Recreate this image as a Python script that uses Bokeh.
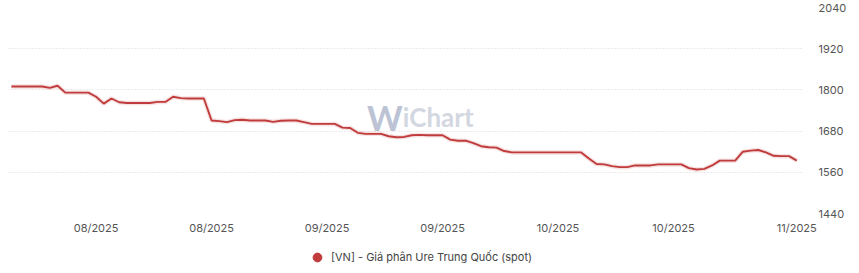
import pandas as pd
from bokeh.plotting import figure
from bokeh.layouts import column
from bokeh.models import (ColumnDataSource, Range1d, FixedTicker, DatetimeTickFormatter,
                          Legend, LegendItem, Label)
from bokeh.embed import file_html
from bokeh.resources import INLINE

# ---- data ----
start_date = "2025-07-22"
prices = [1810, 1810, 1810, 1810, 1810, 1806, 1812, 1792, 1792, 1792, 1792, 1780, 1760, 1775, 1764,
          1762, 1762, 1762, 1762, 1765, 1765, 1780, 1776, 1775, 1775, 1775,
          1711, 1709, 1706, 1712, 1713, 1711, 1711, 1711, 1707, 1710, 1711, 1711, 1706,
          1701, 1701, 1701, 1701,
          1690, 1689, 1675, 1672, 1672, 1672, 1665, 1662, 1663, 1668, 1669, 1668, 1668, 1668,
          1655, 1652, 1652, 1645, 1636, 1633, 1632, 1622,
          1618, 1618, 1618, 1618, 1618, 1618, 1618, 1618, 1618, 1618,
          1600, 1584, 1583, 1578, 1575, 1575, 1580, 1580, 1580, 1583, 1583, 1583, 1583,
          1572, 1568, 1570, 1580, 1594, 1594, 1594, 1620, 1623, 1625, 1618, 1608, 1607, 1607, 1594]
dates = pd.date_range(start_date, periods=len(prices), freq="D")
tick_dates = ["2025-08-02", "2025-08-17", "2025-09-01", "2025-09-16", "2025-10-01", "2025-10-16", "2025-11-01"]
y_ticks = [1440, 1560, 1680, 1800, 1920, 2040]
series_name = "[VN] - Giá phân Ure Trung Quốc (spot)"

LINE = "#c03c3c"
FONT = "Inter"


def ms(d):
    return pd.Timestamp(d).value / 1e6


src = ColumnDataSource(dict(x=dates, y=prices))

p = figure(width=859, height=240, output_backend="svg", toolbar_location=None,
           x_axis_type="datetime",
           x_range=Range1d(ms("2025-07-21 15:00"), ms("2025-11-01 21:00")),
           y_range=Range1d(1440, 2040), y_axis_location="right",
           min_border_left=8, min_border_right=56, min_border_top=7, min_border_bottom=27)
p.outline_line_color = None
p.background_fill_color = "white"
p.border_fill_color = "white"

# axes
xa = p.xaxis[0]
xa.ticker = FixedTicker(ticks=[ms(d) for d in tick_dates])
xa.formatter = DatetimeTickFormatter(days="%m/%Y", months="%m/%Y", years="%m/%Y",
                                     hours="%m/%Y", minutes="%m/%Y", seconds="%m/%Y")
xa.axis_line_color = None
xa.major_tick_line_color = None
xa.minor_tick_line_color = None
xa.major_tick_out = 0
xa.major_tick_in = 0
xa.major_label_text_font = FONT
xa.major_label_text_font_size = "11px"
xa.major_label_text_color = "#555555"
xa.major_label_standoff = 7

ya = p.yaxis[0]
ya.ticker = FixedTicker(ticks=y_ticks)
ya.axis_line_color = None
ya.major_tick_line_color = None
ya.minor_tick_line_color = None
ya.major_tick_out = 0
ya.major_tick_in = 0
ya.major_label_text_font = FONT
ya.major_label_text_font_size = "11px"
ya.major_label_text_color = "#555555"
ya.major_label_standoff = 15

p.xgrid.grid_line_color = None
p.ygrid.ticker = FixedTicker(ticks=y_ticks)
p.ygrid.grid_line_color = "#d9d9d9"
p.ygrid.grid_line_dash = "1 2"
p.ygrid.grid_line_width = 1

# watermark
wm_x = ms("2025-09-10 20:00")
p.add_layout(Label(x=wm_x, y=1721, text="W", text_font="Lato", text_font_style="bold",
                   text_font_size="34px", text_color="#bcc3d5", text_align="right",
                   text_baseline="alphabetic"))
p.add_layout(Label(x=wm_x, y=1721, text="iChart", text_font="Lato", text_font_style="bold",
                   text_font_size="26px", text_color="#d3d7e1", text_align="left",
                   text_baseline="alphabetic"))

# line with soft shadow
p.line("x", "y", source=src, line_color=LINE, line_width=4.5, line_alpha=0.15)
p.line("x", "y", source=src, line_color=LINE, line_width=1.9)

# legend strip below
lg = figure(width=859, height=33, output_backend="svg", toolbar_location=None,
            x_range=Range1d(0, 1), y_range=Range1d(0, 1), min_border=0)
lg.axis.visible = False
lg.grid.visible = False
lg.outline_line_color = None
lg.background_fill_color = "white"
lg.border_fill_color = "white"
dot = lg.scatter(x=[-1], y=[-1], size=10, fill_color=LINE, line_color=LINE)
legend = Legend(items=[LegendItem(label=series_name, renderers=[dot])],
                location=(298, 5),
                label_text_font=FONT, label_text_font_size="11px", label_text_color="#444444",
                glyph_width=22, glyph_height=22, label_standoff=3, label_height=12,
                border_line_color=None, background_fill_alpha=0,
                margin=0, padding=4, spacing=0)
lg.add_layout(legend, "center")

layout = column(p, lg, spacing=0)
open("out.html", "w").write(file_html(layout, INLINE))
